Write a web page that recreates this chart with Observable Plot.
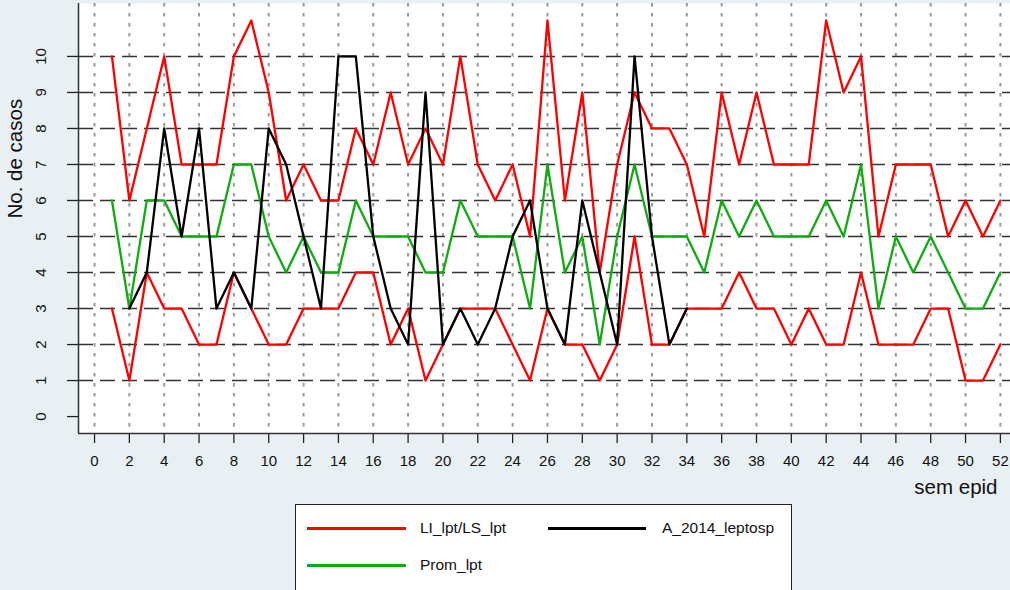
<!DOCTYPE html>
<html><head><meta charset="utf-8">
<script src="https://cdn.jsdelivr.net/npm/d3@7"></script>
<script src="https://cdn.jsdelivr.net/npm/@observablehq/plot@0.6"></script>
<style>
html,body{margin:0;padding:0;background:#e9f0f3;overflow:hidden;width:1010px;height:590px;font-family:"Liberation Sans",Arial,Helvetica,sans-serif;}
#chart{position:absolute;left:0;top:0;}
#legend{position:absolute;left:295px;top:504px;width:497px;height:110px;border:1.5px solid #222;background:#fff;box-sizing:border-box;}
#legend .ln{position:absolute;height:2.5px;}
#legend .lt{position:absolute;font-size:15.5px;line-height:18px;color:#111;white-space:nowrap;}
</style></head><body>
<div id="chart"></div>
<div id="legend">
  <div class="ln" style="left:11px;top:22px;width:99px;background:#ff0000"></div>
  <div class="lt" style="left:124px;top:14px">LI_lpt/LS_lpt</div>
  <div class="ln" style="left:252px;top:22px;width:98px;background:#000000"></div>
  <div class="lt" style="left:366px;top:14px">A_2014_leptosp</div>
  <div class="ln" style="left:11px;top:59px;width:99px;background:#11aa11"></div>
  <div class="lt" style="left:124px;top:51px">Prom_lpt</div>
</div>
<script>
// Epidemiological weeks
const weeks = [1,2,3,4,5,6,7,8,9,10,11,12,13,14,15,16,17,18,19,20,21,22,23,24,25,26,
  27,28,29,30,31,32,33,34,35,36,37,38,39,40,41,42,43,44,45,46,47,48,49,50,51,52];
// Upper limit (LS_lpt)
const LS_lpt = [10,6,8,10,7,7,7,10,11,9,6,7,6,6,8,7,9,7,8,7,10,7,6,7,5,11,
  6,9,4,7,9,8,8,7,5,9,7,9,7,7,7,11,9,10,5,7,7,7,5,6,5,6];
// Lower limit (LI_lpt)
const LI_lpt = [3,1,4,3,3,2,2,4,3,2,2,3,3,3,4,4,2,3,1,2,3,3,3,2,1,3,
  2,2,1,2,5,2,2,3,3,3,4,3,3,2,3,2,2,4,2,2,2,3,3,1,1,2];
// Average (Prom_lpt)
const Prom_lpt = [6,3,6,6,5,5,5,7,7,5,4,5,4,4,6,5,5,5,4,4,6,5,5,5,3,7,
  4,5,2,5,7,5,5,5,4,6,5,6,5,5,5,6,5,7,3,5,4,5,4,3,3,4];
// Cases 2014 (A_2014_leptosp), weeks 2-34
const A_2014_leptosp = [null,3,4,8,5,8,3,4,3,8,7,5,3,10,10,5,3,2,9,2,3,2,3,5,6,3,
  2,6,4,2,10,5,2,3,null,null,null,null,null,null,null,null,null,null,null,null,null,null,null,null,null,null];

const xTicks = [0,2,4,6,8,10,12,14,16,18,20,22,24,26,28,30,32,34,36,38,40,42,44,46,48,50,52];
const yTicks = [0,1,2,3,4,5,6,7,8,9,10];
const yGrid = [1,2,3,4,5,6,7,8,9,10];

const rows = weeks.map((w, i) => ({week: w, ls: LS_lpt[i], li: LI_lpt[i], prom: Prom_lpt[i], a: A_2014_leptosp[i]}));

const xDomain = [-0.92, 52.58];
const yDomain = [-0.47, 11.47];

const chart = Plot.plot({
  width: 1010, height: 500,
  marginLeft: 78, marginRight: 0, marginTop: 3, marginBottom: 67,
  x: {domain: xDomain},
  y: {domain: yDomain},
  style: {background: "transparent", fontFamily: "'Liberation Sans', Arial, Helvetica, sans-serif", color: "#111"},
  marks: [
    Plot.frame({fill: "white", stroke: null}),
    Plot.ruleX(xTicks, {stroke: "#999", strokeWidth: 2, strokeDasharray: "3.5,6.5"}),
    Plot.ruleY(yGrid, {stroke: "#333", strokeWidth: 1.5, strokeDasharray: "15,7"}),
    Plot.line(rows, {x: "week", y: "ls", stroke: "#ff0000", strokeWidth: 2.3}),
    Plot.line(rows, {x: "week", y: "li", stroke: "#ff0000", strokeWidth: 2.3}),
    Plot.line(rows, {x: "week", y: "prom", stroke: "#11aa11", strokeWidth: 2.3}),
    Plot.line(rows, {x: "week", y: "a", stroke: "#000000", strokeWidth: 2.3}),
    Plot.axisX(xTicks, {tickSize: 10, tickPadding: 12, fontSize: 15, label: null, stroke: "#222", strokeWidth: 1.3}),
    Plot.axisY(yTicks, {tickSize: 11, tickRotate: -90, tickPadding: 22, fontSize: 15, label: null, stroke: "#222", strokeWidth: 1.3}),
    Plot.ruleX([xDomain[0]], {stroke: "#333", strokeWidth: 1.5}),
    Plot.ruleY([yDomain[0]], {stroke: "#333", strokeWidth: 1.5}),
    Plot.text(["sem epid"], {text: d => d, frameAnchor: "bottom-right", textAnchor: "end", dx: -13, dy: 60, fontSize: 20.5}),
    Plot.text(["No. de casos"], {text: d => d, frameAnchor: "left", rotate: -90, dx: -63, dy: 0, fontSize: 20.5})
  ]
});
document.getElementById("chart").appendChild(chart);
</script>
</body></html>
